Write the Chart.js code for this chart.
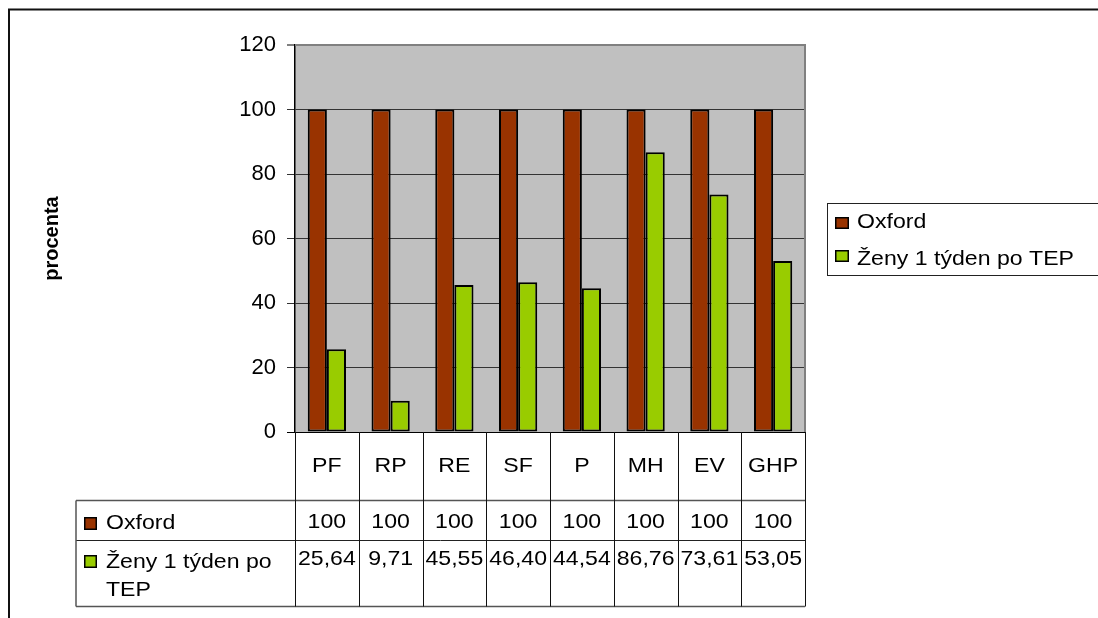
<!DOCTYPE html>
<html>
<head>
<meta charset="utf-8">
<script src="https://cdn.jsdelivr.net/npm/chart.js@4/dist/chart.umd.min.js"></script>
<style>
  html, body { margin: 0; padding: 0; background: #fff; }
  canvas { display: block; }
</style>
</head>
<body>
<canvas id="c" width="1098" height="618"></canvas>
<script>
// Categories and series
const categories = ['PF', 'RP', 'RE', 'SF', 'P', 'MH', 'EV', 'GHP'];
const seriesNames = ['Oxford', 'Ženy 1 týden po TEP'];
const oxfordValues = [100, 100, 100, 100, 100, 100, 100, 100];
const zenyValues = [25.64, 9.71, 45.55, 46.40, 44.54, 86.76, 73.61, 53.05];
const yMin = 0, yMax = 120, yStep = 20;
const axisTitle = 'procenta';

const COLORS = ['#993300', '#99cc00'];
const FONT = '"Liberation Sans", Arial, sans-serif';
const TXT_SIZE = 21;
const SX = 1.1; // slight horizontal widening of table/legend text

function fmtOxford(v) { return String(v); }
function fmtZeny(v) { return v.toFixed(2).replace('.', ','); }

function drawText(ctx, s, x, y, align) {
  ctx.save();
  ctx.translate(x, y);
  ctx.scale(SX, 1);
  ctx.textAlign = align || 'left';
  ctx.textBaseline = 'alphabetic';
  ctx.fillText(s, 0, 0);
  ctx.restore();
}

function wrapWords(ctx, s, maxW) {
  const words = s.split(' ');
  const lines = [];
  let cur = '';
  for (const w of words) {
    const t = cur ? cur + ' ' + w : w;
    if (ctx.measureText(t).width * SX > maxW && cur) { lines.push(cur); cur = w; }
    else cur = t;
  }
  if (cur) lines.push(cur);
  return lines;
}

function marker(ctx, x, y, w, h, color) {
  ctx.fillStyle = color;
  ctx.fillRect(x, y, w, h);
  ctx.strokeStyle = '#000';
  ctx.lineWidth = 1.5;
  ctx.strokeRect(x + 0.75, y + 0.75, w - 1.5, h - 1.5);
}

function line(ctx, x1, y1, x2, y2, color, w) {
  ctx.beginPath();
  ctx.strokeStyle = color;
  ctx.lineWidth = w || 1;
  ctx.moveTo(x1, y1);
  ctx.lineTo(x2, y2);
  ctx.stroke();
}

const decor = {
  id: 'decor',
  beforeDraw(chart) {
    const { ctx, chartArea: a } = chart;
    ctx.save();
    ctx.fillStyle = '#fff';
    ctx.fillRect(0, 0, chart.width, chart.height);
    ctx.fillStyle = '#c0c0c0';
    ctx.fillRect(a.left, a.top, a.right - a.left, a.bottom - a.top);
    ctx.restore();
  },
  afterDraw(chart) {
    const { ctx, chartArea: a } = chart;
    const xs = chart.scales.x;
    const n = categories.length;
    const colW = (a.right - a.left) / n;
    ctx.save();

    // plot frame (top and right)
    line(ctx, a.left, a.top, a.right + 1, a.top, '#808080', 2);
    line(ctx, a.right, a.top, a.right, a.bottom, '#808080', 2);

    // data table
    const headL = 76;
    const rowTop = 500.5, rowMid = 540.5, rowBot = 606.5;
    line(ctx, headL, rowTop, a.right, rowTop, '#555', 1.5);
    line(ctx, headL, rowMid, a.right, rowMid, '#222', 1);
    line(ctx, headL, rowBot, a.right, rowBot, '#555', 1.5);
    line(ctx, headL, rowTop, headL, rowBot, '#555', 1.5);
    for (let i = 0; i <= n; i++) {
      const x = Math.round(a.left + i * colW) + 0.5;
      line(ctx, x, a.bottom, x, rowBot, '#111', 1);
    }

    ctx.fillStyle = '#000';
    ctx.font = TXT_SIZE + 'px ' + FONT;
    for (let i = 0; i < n; i++) {
      const cx = xs.getPixelForValue(i);
      ctx.fillStyle = '#000';
      drawText(ctx, categories[i], cx, 471.5, 'center');
      drawText(ctx, fmtOxford(oxfordValues[i]), cx, 527.5, 'center');
      drawText(ctx, fmtZeny(zenyValues[i]), cx, 565, 'center');
    }

    // row headers
    marker(ctx, 84, 517, 13, 13, COLORS[0]);
    ctx.fillStyle = '#000';
    drawText(ctx, seriesNames[0], 106, 528.5, 'left');
    marker(ctx, 84, 555, 13, 13, COLORS[1]);
    ctx.fillStyle = '#000';
    const lines = wrapWords(ctx, seriesNames[1], 294 - 106 - 4);
    lines.forEach((l, k) => drawText(ctx, l, 106, 567.5 + k * 28.5, 'left'));

    // legend
    const lx = 827.5, ly = 203.5;
    ctx.strokeStyle = '#222';
    ctx.lineWidth = 1;
    ctx.strokeRect(lx, ly, 400, 72);
    marker(ctx, 835, 217, 14, 12, COLORS[0]);
    ctx.fillStyle = '#000';
    drawText(ctx, seriesNames[0], 857, 227.5, 'left');
    marker(ctx, 835, 250, 14, 12, COLORS[1]);
    ctx.fillStyle = '#000';
    drawText(ctx, seriesNames[1], 857, 264.5, 'left');

    // outer frame
    ctx.strokeStyle = '#111';
    ctx.lineWidth = 2;
    ctx.strokeRect(9, 9.5, 1200, 800);

    ctx.restore();
  }
};

new Chart(document.getElementById('c'), {
  type: 'bar',
  data: {
    labels: categories,
    datasets: [
      { label: seriesNames[0], data: oxfordValues, backgroundColor: COLORS[0],
        borderColor: '#000', borderWidth: 2, borderSkipped: false },
      { label: seriesNames[1], data: zenyValues, backgroundColor: COLORS[1],
        borderColor: '#000', borderWidth: 2, borderSkipped: false }
    ]
  },
  options: {
    responsive: false,
    devicePixelRatio: 1,
    animation: false,
    layout: { padding: { top: 45, right: 293, bottom: 186, left: 0 } },
    datasets: { bar: { categoryPercentage: 0.6, barPercentage: 1.0 } },
    plugins: { legend: { display: false }, tooltip: { enabled: false } },
    scales: {
      x: { display: false },
      y: {
        min: yMin, max: yMax,
        ticks: { stepSize: yStep, color: '#000', padding: 11,
                 font: { family: FONT, size: 22 } },
        grid: {
          tickLength: 8,
          color: (c) => c.tick && c.tick.value === yMax ? '#808080' :
                        (c.tick && c.tick.value === yMin ? '#000' : '#333'),
          lineWidth: (c) => c.tick && (c.tick.value === yMax) ? 2 : 1
        },
        border: { color: '#000', width: 1.5 },
        title: { display: true, text: axisTitle, color: '#000',
                 font: { family: FONT, size: 20, weight: 'bold' },
                 padding: { top: 40, bottom: 0 } },
        afterFit(scale) { scale.width = 295; }
      }
    }
  },
  plugins: [decor]
});
</script>
</body>
</html>
